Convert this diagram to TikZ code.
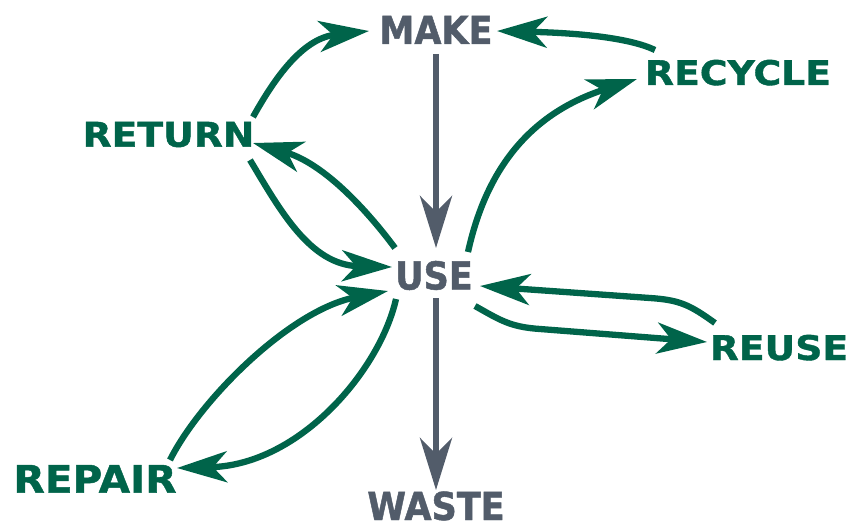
\documentclass[tikz,border=0pt]{standalone}
\usepackage{fontspec}
\usetikzlibrary{arrows.meta}
\newfontfamily\grayfont[FakeStretch=0.91,FakeBold=1.2]{DejaVu Sans Bold}
\newfontfamily\greenfont[FakeStretch=1.11,FakeBold=1.2]{DejaVu Sans Bold}
\newfontfamily\repairfont[FakeStretch=1.07,FakeBold=1.2]{DejaVu Sans Bold}
\definecolor{cgreen}{HTML}{00644A}
\definecolor{cgray}{HTML}{525C6A}
\tikzset{
  graylbl/.style={inner sep=0pt, text depth=0pt, anchor=base, text=cgray, font=\grayfont\fontsize{38.5}{40}\selectfont},
  greenlbl/.style={inner sep=0pt, text depth=0pt, anchor=base, text=cgreen, font=\greenfont\fontsize{34}{36}\selectfont},
  garrow/.style={draw=cgreen, line width=6.3pt, -{Stealth[length=50pt, width=31pt, inset=14pt]}},
  grayarrow/.style={draw=cgray, line width=6.5pt, -{Stealth[length=52pt, width=32pt, inset=16pt]}},
}
\begin{document}
\begin{tikzpicture}[x=1pt, y=-1pt]
\useasboundingbox (0,0) rectangle (851,524);
% nodes
\node[graylbl] (make) at (436,44) {MAKE};
\node[graylbl] (use) at (434,289.5) {USE};
\node[graylbl] (waste) at (436,520) {WASTE};
\node[greenlbl] (recycle) at (738,85) {RECYCLE};
\node[greenlbl] (return) at (168.5,146.7) {RETURN};
\node[greenlbl] (reuse) at (779,360) {REUSE};
\node[greenlbl, font=\repairfont\fontsize{38}{40}\selectfont] (repair) at (95,492.7) {REPAIR};
% gray arrows
\draw[grayarrow] ([shift={(0,10)}]make.base) -- ([shift={(2,-41.5)}]use.base);
\draw[grayarrow] ([shift={(2,8.5)}]use.base) -- ([shift={(0,-30)}]waste.base);
% green arrows
\draw[garrow] ([shift={(84.5,-29.7)}]return.base) .. controls +(25,-45) and +(-64,7) .. ([shift={(-67,-13)}]make.base);
\draw[garrow] ([shift={(-83,-35)}]recycle.base) .. controls +(-25,-12) and +(83,2) .. ([shift={(61,-13)}]make.base);
\draw[garrow] ([shift={(34,-37.5)}]use.base) .. controls +(17,-77) and +(-112,36) .. ([shift={(-101,-6)}]recycle.base);
\draw[garrow] ([shift={(-39,-41.5)}]use.base) .. controls +(-17,-23) and +(77,22) .. ([shift={(84.5,-3.7)}]return.base);
\draw[garrow] ([shift={(81.5,13.3)}]return.base) .. controls +(30,50) and +(-82,-2) .. ([shift={(-42,-22.5)}]use.base);
\draw[garrow] ([shift={(75,-32.7)}]repair.base) .. controls +(30,-60) and +(-98,19) .. ([shift={(-46,1.5)}]use.base);
\draw[garrow] ([shift={(-38,9.5)}]use.base) .. controls +(-16,71) and +(123,-3) .. ([shift={(82,-24.7)}]repair.base);
\draw[garrow] ([shift={(-64,-37)}]reuse.base) .. controls +(-25,-18) and +(30,2) .. ([shift={(-129,-62)}]reuse.base) -- ([shift={(46,-3.5)}]use.base);
\draw[garrow] ([shift={(41,16.5)}]use.base) .. controls +(25,14) and +(-30,-2) .. ([shift={(106,39.5)}]use.base) -- ([shift={(-72,-18)}]reuse.base);
\end{tikzpicture}
\end{document}
